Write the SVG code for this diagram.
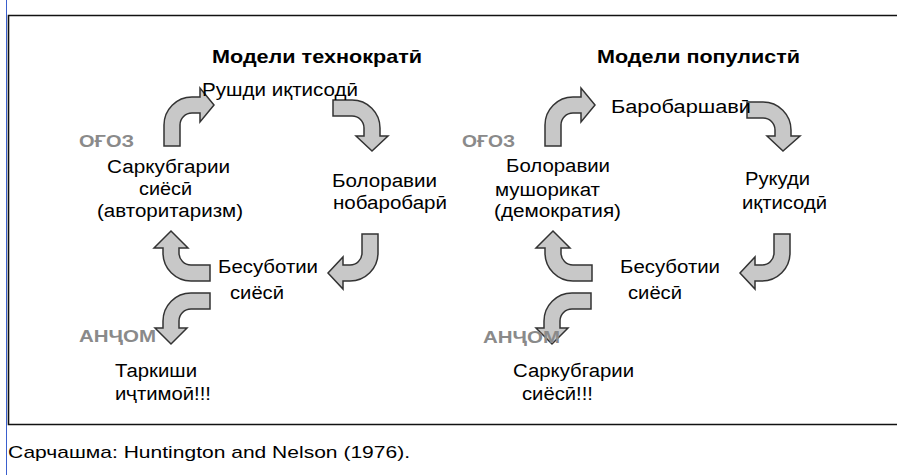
<svg xmlns="http://www.w3.org/2000/svg" width="897" height="475" viewBox="0 0 897 475">
<style>
.t{font-family:"Liberation Sans",Arial,sans-serif;font-size:18px;fill:#000}
.h{font-family:"Liberation Sans",Arial,sans-serif;font-size:19px;font-weight:bold;fill:#000}
.g{font-family:"Liberation Sans",Arial,sans-serif;font-size:17px;font-weight:bold;fill:#8a8a8a}
.f{font-family:"Liberation Sans",Arial,sans-serif;font-size:17px;fill:#000}
.arr{fill:#c8c8c8;stroke:#333;stroke-width:1.5;stroke-linejoin:miter}
</style>
<rect width="897" height="475" fill="#fff"/>
<g id="frame">
<line x1="6.5" y1="0" x2="6.5" y2="475" stroke="#3a5fcd" stroke-width="1"/>
<path d="M897,15.5 H8.5 V424.5 H897" fill="none" stroke="#111" stroke-width="1.6"/>
</g>
<g id="connectors">
<path class="arr" d="M164,146 L164,125 A28,28 0 0 1 192,97 L200,97 L200,88 L214,105 L200,122 L200,113 L192,113 A12,12 0 0 0 180,125 L180,146 Z"/>
<path class="arr" d="M333,100 L352,100 A28,28 0 0 1 380,128 L380,136 L388,136 L372,151 L356,136 L364,136 L364,128 A12,12 0 0 0 352,116 L333,116 Z"/>
<path class="arr" d="M362,234 L378,234 L378,253 A28,28 0 0 1 350,281 L343,281 L343,289 L328,273 L343,257 L343,265 L350,265 A12,12 0 0 0 362,253 Z"/>
<path class="arr" d="M210,265 L191,265 A12,12 0 0 1 179,253 L179,248 L188,248 L171,231 L154,248 L163,248 L163,253 A28,28 0 0 0 191,281 L210,281 Z"/>
<path class="arr" d="M210,293 L191,293 A28,28 0 0 0 163,321 L163,328 L155,328 L171,344 L187,328 L179,328 L179,321 A12,12 0 0 1 191,309 L210,309 Z"/>
<path class="arr" transform="translate(381,0)" d="M164,146 L164,125 A28,28 0 0 1 192,97 L200,97 L200,88 L214,105 L200,122 L200,113 L192,113 A12,12 0 0 0 180,125 L180,146 Z"/>
<path class="arr" d="M747,102 L763,102 A28,28 0 0 1 791,130 L791,136 L800,136 L783,151 L767,136 L775,136 L775,130 A12,12 0 0 0 763,118 L747,118 Z"/>
<path class="arr" transform="translate(412,0)" d="M362,234 L378,234 L378,253 A28,28 0 0 1 350,281 L343,281 L343,289 L328,273 L343,257 L343,265 L350,265 A12,12 0 0 0 362,253 Z"/>
<path class="arr" transform="translate(382,0)" d="M210,265 L191,265 A12,12 0 0 1 179,253 L179,248 L188,248 L171,231 L154,248 L163,248 L163,253 A28,28 0 0 0 191,281 L210,281 Z"/>
<path class="arr" transform="translate(381,0)" d="M210,293 L191,293 A28,28 0 0 0 163,321 L163,328 L155,328 L171,344 L187,328 L179,328 L179,321 A12,12 0 0 1 191,309 L210,309 Z"/>
</g>
<g id="title-left"><text class="h" x="212" y="63" textLength="210" lengthAdjust="spacingAndGlyphs">Модели технократӣ</text></g>
<g id="l-growth"><text class="t" x="202" y="96" textLength="156" lengthAdjust="spacingAndGlyphs">Рушди иқтисодӣ</text></g>
<g id="l-start"><text class="g" x="79" y="147" textLength="55" lengthAdjust="spacingAndGlyphs">ОҒОЗ</text></g>
<g id="l-auth">
<text class="t" x="107" y="173" textLength="123" lengthAdjust="spacingAndGlyphs">Саркубгарии</text>
<text class="t" x="139" y="195" textLength="53" lengthAdjust="spacingAndGlyphs">сиёсӣ</text>
<text class="t" x="97" y="217" textLength="146" lengthAdjust="spacingAndGlyphs">(авторитаризм)</text>
</g>
<g id="l-inequality">
<text class="t" x="332" y="187" textLength="105" lengthAdjust="spacingAndGlyphs">Болоравии</text>
<text class="t" x="333" y="209" textLength="114" lengthAdjust="spacingAndGlyphs">нобаробарӣ</text>
</g>
<g id="l-instability">
<text class="t" x="218" y="273" textLength="100" lengthAdjust="spacingAndGlyphs">Бесуботии</text>
<text class="t" x="230" y="299" textLength="54" lengthAdjust="spacingAndGlyphs">сиёсӣ</text>
</g>
<g id="l-end"><text class="g" x="79" y="342" textLength="77" lengthAdjust="spacingAndGlyphs">АНҶОМ</text></g>
<g id="l-result">
<text class="t" x="115" y="377" textLength="82" lengthAdjust="spacingAndGlyphs">Таркиши</text>
<text class="t" x="115" y="400" textLength="96" lengthAdjust="spacingAndGlyphs">иҷтимоӣ!!!</text>
</g>
<g id="title-right"><text class="h" x="597" y="63" textLength="203" lengthAdjust="spacingAndGlyphs">Модели популистӣ</text></g>
<g id="r-equality"><text class="t" x="611" y="113" textLength="140" lengthAdjust="spacingAndGlyphs">Баробаршавӣ</text></g>
<g id="r-start"><text class="g" x="462" y="147" textLength="53" lengthAdjust="spacingAndGlyphs">ОҒОЗ</text></g>
<g id="r-democracy">
<text class="t" x="506" y="172" textLength="104" lengthAdjust="spacingAndGlyphs">Болоравии</text>
<text class="t" x="495" y="196" textLength="105" lengthAdjust="spacingAndGlyphs">мушорикат</text>
<text class="t" x="494" y="217" textLength="127" lengthAdjust="spacingAndGlyphs">(демократия)</text>
</g>
<g id="r-stagnation">
<text class="t" x="745" y="185" textLength="65" lengthAdjust="spacingAndGlyphs">Рукуди</text>
<text class="t" x="742" y="209" textLength="85" lengthAdjust="spacingAndGlyphs">иқтисодӣ</text>
</g>
<g id="r-instability">
<text class="t" x="620" y="273" textLength="100" lengthAdjust="spacingAndGlyphs">Бесуботии</text>
<text class="t" x="628" y="299" textLength="54" lengthAdjust="spacingAndGlyphs">сиёсӣ</text>
</g>
<g id="r-end"><text class="g" x="483" y="343" textLength="77" lengthAdjust="spacingAndGlyphs">АНҶОМ</text></g>
<g id="r-result">
<text class="t" x="513" y="377" textLength="121" lengthAdjust="spacingAndGlyphs">Саркубгарии</text>
<text class="t" x="522" y="400" textLength="71" lengthAdjust="spacingAndGlyphs">сиёсӣ!!!</text>
</g>
<g id="source"><text class="f" x="8" y="458" textLength="402" lengthAdjust="spacingAndGlyphs">Сарчашма: Huntington and Nelson (1976).</text></g>
</svg>
